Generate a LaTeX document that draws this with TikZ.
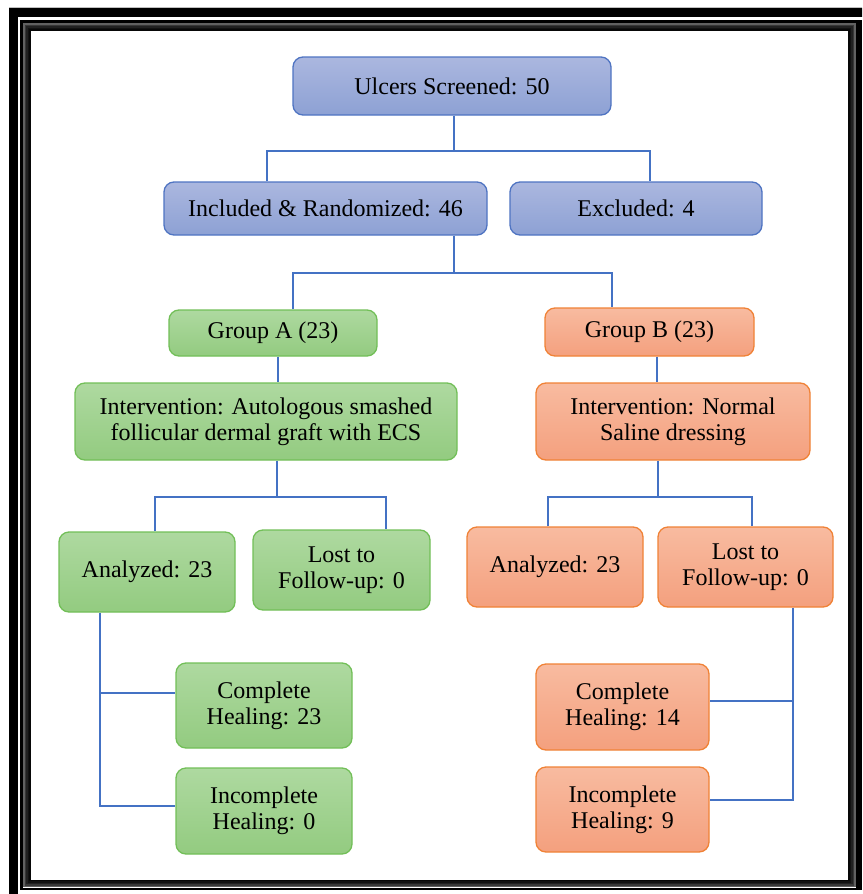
\documentclass[tikz,border=0pt]{standalone}
\usepackage{fontspec}
\setmainfont{Liberation Serif}
\newcommand\boxfont{\fontsize{24}{26}\selectfont}
\definecolor{bluedraw}{HTML}{4F74C2}
\definecolor{bluetop}{HTML}{ABB7DF}
\definecolor{bluebot}{HTML}{8DA1D4}
\definecolor{greendraw}{HTML}{72BF58}
\definecolor{greentop}{HTML}{AED9A0}
\definecolor{greenbot}{HTML}{93CB80}
\definecolor{orangedraw}{HTML}{F08236}
\definecolor{orangetop}{HTML}{F8BBA0}
\definecolor{orangebot}{HTML}{F4A07E}
\definecolor{connc}{HTML}{4472C4}
\begin{document}
\begin{tikzpicture}[x=1pt,y=-1pt,
  box/.style={draw, rounded corners=10pt, line width=1.3pt, align=center, inner sep=0pt, font=\boxfont},
  bluebox/.style={box, draw=bluedraw, top color=bluetop, bottom color=bluebot},
  greenbox/.style={box, draw=greendraw, top color=greentop, bottom color=greenbot},
  orangebox/.style={box, draw=orangedraw, top color=orangetop, bottom color=orangebot},
  conn/.style={draw=connc, line width=1.5pt},
  sz/.style 2 args={minimum width=#1pt, minimum height=#2pt}]
\useasboundingbox (0,0) rectangle (862,894);
\begin{scope}
\clip (0,0) rectangle (862,894);
\fill[white] (0,0) rectangle (862,894);
\draw[black, line width=9pt] (13.5,12.5) rectangle (880,910);
\draw[black!25, line width=0.6pt] (9,7.5) -- (880,7.5);
\foreach \d/\g in {8.5/97,7/93,5.5/87,4/78,2.5/62}{
  \draw[black!\g!white, line width=1.6pt] (21.5+\d,21.5+\d) rectangle (857.5-\d,889-\d);
}
\draw[black, line width=2.6pt] (21.5,21.5) rectangle (857.5,889);
\fill[black] (857,20.2) rectangle (862,890.3);
\end{scope}

\node[bluebox, sz={318}{58}] (scr) at (452,86) {Ulcers Screened: 50};
\node[bluebox, sz={323}{53}] (inc) at (325.5,208.5) {Included \& Randomized: 46};
\node[bluebox, sz={252}{53}] (exc) at (636,208.5) {Excluded: 4};

\node[greenbox, sz={208}{46}] (ga) at (273,333) {Group A (23)};
\node[orangebox, sz={209}{48}] (gb) at (649.5,332) {Group B (23)};

\node[greenbox, sz={382}{77}] (ia) at (266,421.5) {Intervention: Autologous smashed\\follicular dermal graft with ECS};
\node[orangebox, sz={274}{77}] (ib) at (673,421.5) {Intervention: Normal\\Saline dressing};

\node[greenbox, sz={176}{80}] (aa) at (147,572) {Analyzed: 23};
\node[greenbox, sz={177}{80}] (la) at (341.5,570) {Lost to\\Follow-up: 0};
\node[orangebox, sz={176}{80}] (ab) at (555,567) {Analyzed: 23};
\node[orangebox, sz={175}{80}] (lb) at (745.5,567) {Lost to\\Follow-up: 0};

\node[greenbox, sz={176}{85}] (ca) at (264,705.5) {Complete\\Healing: 23};
\node[greenbox, sz={176}{86}] (xa) at (264,811) {Incomplete\\Healing: 0};
\node[orangebox, sz={173}{86}] (cb) at (622.5,707) {Complete\\Healing: 14};
\node[orangebox, sz={173}{85}] (xb) at (622.5,809.5) {Incomplete\\Healing: 9};

% connectors
\coordinate (j1) at (454,151);
\coordinate (j1l) at (267,151);
\coordinate (j1r) at (650,151);
\draw[conn] (scr.south -| j1) -- (j1);
\draw[conn] (inc.north -| j1l) -- (j1l) -- (j1r) -- (exc.north -| j1r);

\coordinate (j2) at (454,273);
\coordinate (j2l) at (293,273);
\coordinate (j2r) at (612,273);
\draw[conn] (inc.south -| j2) -- (j2);
\draw[conn] (ga.north -| j2l) -- (j2l) -- (j2r) -- (gb.north -| j2r);

\coordinate (ja) at (278,370);
\draw[conn] (ga.south -| ja) -- (ia.north -| ja);
\coordinate (jb) at (657,370);
\draw[conn] (gb.south -| jb) -- (ib.north -| jb);

\coordinate (j3) at (277,497);
\coordinate (j3l) at (155,497);
\coordinate (j3r) at (386,497);
\draw[conn] (ia.south -| j3) -- (j3);
\draw[conn] (aa.north -| j3l) -- (j3l) -- (j3r) -- (la.north -| j3r);

\coordinate (j4) at (658,497);
\coordinate (j4l) at (548,497);
\coordinate (j4r) at (752,497);
\draw[conn] (ib.south -| j4) -- (j4);
\draw[conn] (ab.north -| j4l) -- (j4l) -- (j4r) -- (lb.north -| j4r);

\coordinate (k1) at (100,693);
\coordinate (k2) at (100,806);
\draw[conn] (aa.south -| k1) -- (k2) -- (xa.west |- k2);
\draw[conn] (k1) -- (ca.west |- k1);

\coordinate (m1) at (793,701);
\coordinate (m2) at (793,800);
\draw[conn] (lb.south -| m1) -- (m2) -- (xb.east |- m2);
\draw[conn] (m1) -- (cb.east |- m1);
\end{tikzpicture}
\end{document}
